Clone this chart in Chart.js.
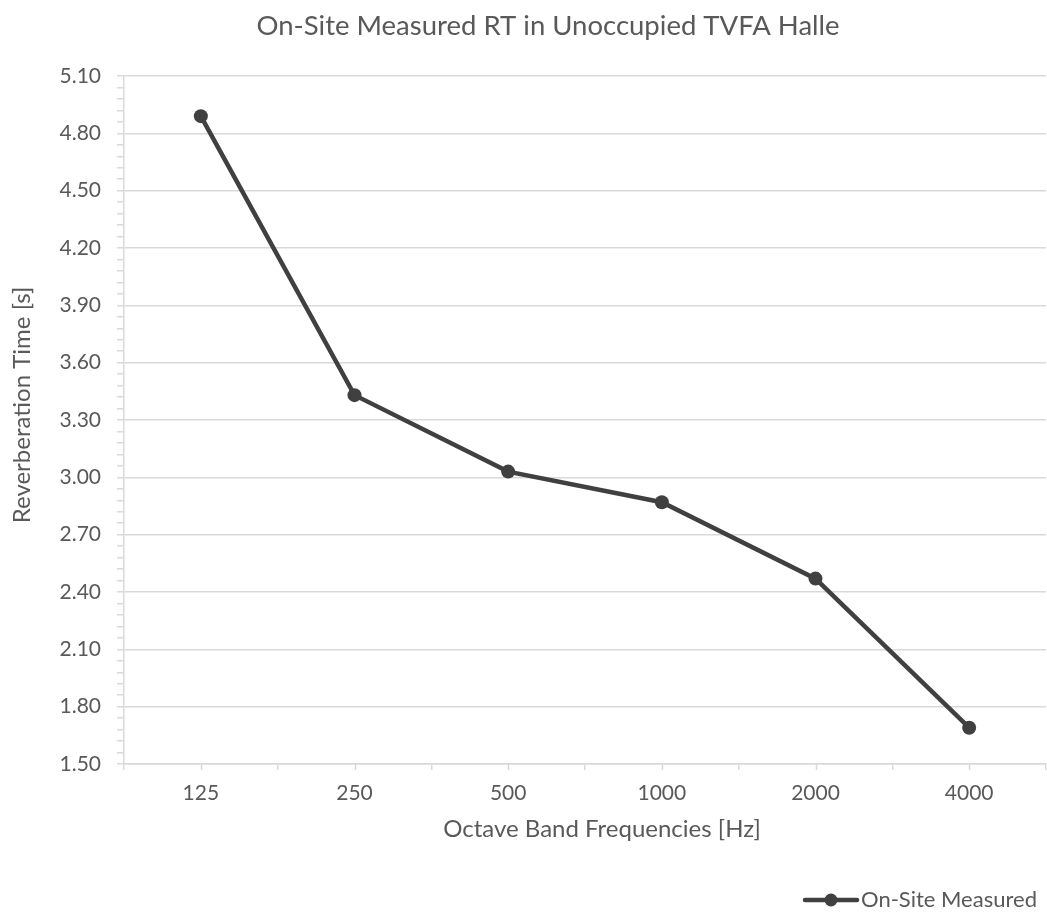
<!DOCTYPE html>
<html>
<head>
<meta charset="utf-8">
<script src="https://cdn.jsdelivr.net/npm/chart.js@4/dist/chart.umd.min.js"></script>
<style>
  html, body { margin: 0; padding: 0; background: #fff; overflow: hidden; }
  #wrap { width: 1053px; height: 913px; }
</style>
</head>
<body>
<div id="wrap"><canvas id="chart" width="1053" height="913"></canvas></div>
<script>
// chart data
var frequencies = ["125", "250", "500", "1000", "2000", "4000"];
var measuredRT = [4.89, 3.43, 3.03, 2.87, 2.47, 1.69];
var seriesName = "On-Site Measured";
var chartTitle = "On-Site Measured RT in Unoccupied TVFA Halle";
var xTitle = "Octave Band Frequencies [Hz]";
var yTitle = "Reverberation Time [s]";

var textColor = "#595959";
var lineColor = "#404040";
var gridColor = "#d9d9d9";
var fontFamily = "Lato, 'Open Sans', sans-serif";

// Excel-ish extras: titles, legend and the centre ticks on the category axis
var extras = {
  id: "extras",
  afterDraw: function(chart) {
    var ctx = chart.ctx, x = chart.scales.x, area = chart.chartArea;

    ctx.save();
    ctx.strokeStyle = gridColor;
    ctx.lineWidth = 1.5;
    for (var i = 0; i < frequencies.length; i++) {
      var px = Math.round(x.getPixelForValue(i)) + 0.5;
      ctx.beginPath();
      ctx.moveTo(px, area.bottom);
      ctx.lineTo(px, area.bottom + 6);
      ctx.stroke();
    }

    ctx.fillStyle = textColor;
    ctx.textAlign = "center";
    ctx.textBaseline = "middle";
    ctx.font = "27.5px " + fontFamily;
    ctx.fillText(chartTitle, 548, 26);

    ctx.font = "24px " + fontFamily;
    ctx.fillText(xTitle, 602, 829);
    ctx.save();
    ctx.translate(22, 405);
    ctx.rotate(-Math.PI / 2);
    ctx.fillText(yTitle, 0, 0);
    ctx.restore();

    // legend
    ctx.strokeStyle = lineColor;
    ctx.lineWidth = 4.5;
    ctx.lineCap = "round";
    ctx.beginPath();
    ctx.moveTo(805, 900);
    ctx.lineTo(857, 900);
    ctx.stroke();
    ctx.fillStyle = lineColor;
    ctx.beginPath();
    ctx.arc(831, 900, 6.5, 0, Math.PI * 2);
    ctx.fill();
    ctx.fillStyle = textColor;
    ctx.font = "22px " + fontFamily;
    ctx.textAlign = "left";
    ctx.fillText(seriesName, 861, 900);
    ctx.restore();
  }
};

var ctx = document.getElementById("chart").getContext("2d");
var chart = new Chart(ctx, {
  type: "line",
  data: {
    labels: frequencies,
    datasets: [{
      label: seriesName,
      data: measuredRT,
      borderColor: lineColor,
      backgroundColor: lineColor,
      borderWidth: 4.5,
      pointRadius: 7,
      pointBorderWidth: 0,
      pointBackgroundColor: lineColor,
      tension: 0
    }]
  },
  options: {
    responsive: false,
    animation: false,
    layout: { padding: { top: 76, right: 1, bottom: 0, left: 0 } },
    plugins: {
      legend: { display: false },
      title: { display: false },
      tooltip: { enabled: false }
    },
    scales: {
      x: {
        offset: true,
        grid: { offset: true, drawOnChartArea: false, color: gridColor, lineWidth: 1.5, tickLength: 6 },
        border: { color: gridColor, width: 1.5 },
        ticks: { color: textColor, font: { family: fontFamily, size: 21 }, padding: 11, maxRotation: 0 },
        afterFit: function(scale) { scale.height = 149; }
      },
      y: {
        min: 1.5,
        max: 5.1,
        ticks: {
          stepSize: 0.06,
          autoSkip: false,
          color: textColor,
          font: { family: fontFamily, size: 21 },
          padding: 16,
          callback: function(value, index) { return index % 5 === 0 ? value.toFixed(2) : ""; }
        },
        grid: {
          color: function(c) { return c.index % 5 === 0 ? gridColor : "rgba(0,0,0,0)"; },
          tickColor: gridColor,
          lineWidth: 1.5,
          tickLength: 7
        },
        border: { color: gridColor, width: 1.5 },
        afterFit: function(scale) { scale.width = 124; }
      }
    }
  },
  plugins: [extras]
});
</script>
</body>
</html>
